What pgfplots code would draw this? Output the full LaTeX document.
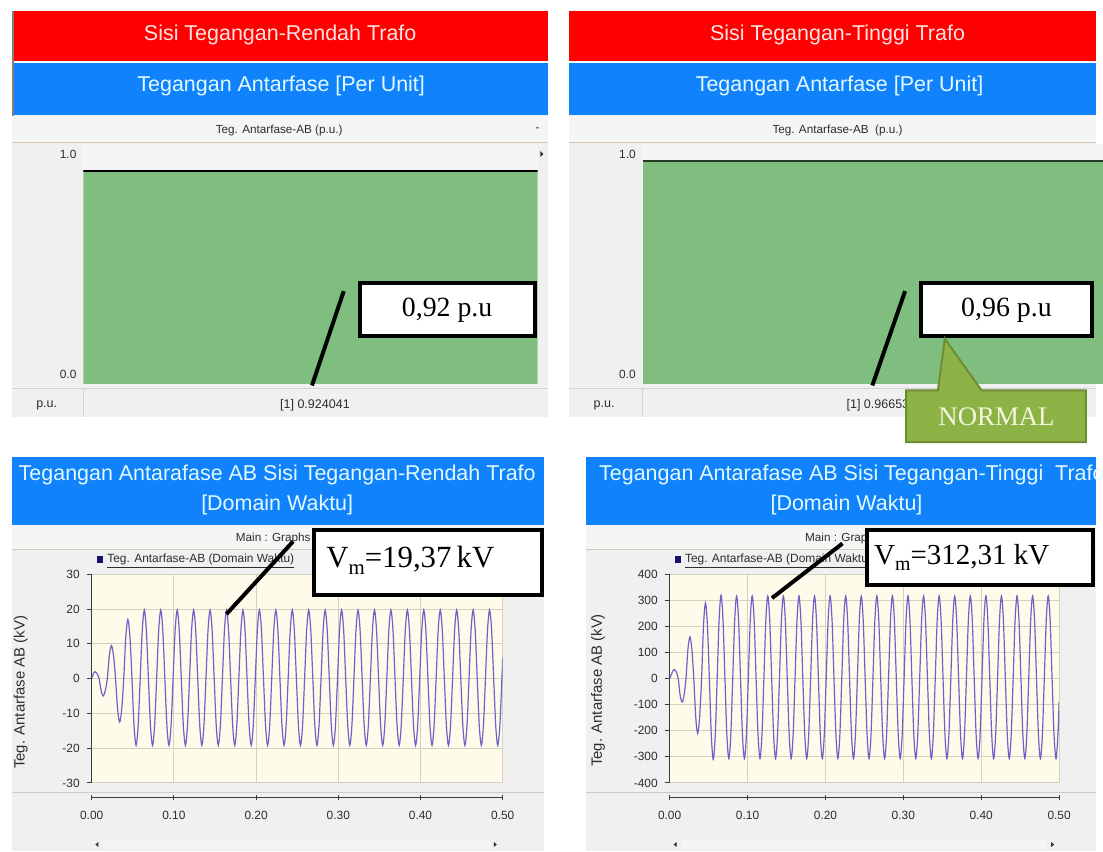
\documentclass[border=0pt]{standalone}
\usepackage{fontspec}
\setmainfont{Liberation Sans}
\newfontfamily\serif{Liberation Serif}
\usepackage{pgfplots}
\pgfplotsset{compat=1.18}
\definecolor{hred}{RGB}{254,0,0}
\definecolor{hblue}{RGB}{16,130,252}
\definecolor{htxtr}{RGB}{255,226,226}
\definecolor{htxtb}{RGB}{226,250,255}
\definecolor{pgray}{RGB}{240,240,240}
\definecolor{sgray}{RGB}{245,245,245}
\definecolor{sline}{RGB}{214,200,180}
\definecolor{barg}{RGB}{128,190,128}
\definecolor{normg}{RGB}{141,179,70}
\definecolor{normd}{RGB}{110,140,52}
\definecolor{normt}{RGB}{245,245,222}
\definecolor{wave}{RGB}{108,98,200}
\definecolor{cream}{RGB}{255,251,234}
\definecolor{gridc}{RGB}{214,208,192}
\definecolor{axc}{RGB}{60,60,60}
\definecolor{tickc}{RGB}{45,45,45}
\definecolor{navy}{RGB}{20,20,110}
\newcommand\fs[1]{\fontsize{#1}{#1}\selectfont}
\begin{document}
\begin{tikzpicture}
\begin{scope}[x=0.5pt,y=-0.5pt]
\useasboundingbox (0,0) rectangle (1103,857);
\fill[white] (0,0) rectangle (1103,857);
% ---------- top-left panel
\fill[pgray] (12,116) rectangle (552,420);
\fill[sgray] (12,117) rectangle (552,143);
\draw[sline, line width=0.5pt] (12,143.5) -- (552,143.5);
\fill[hred] (12,11.5) rectangle (552,61);
\fill[hblue] (12,63) rectangle (552,116);
\draw[gray, line width=1pt] (13,11.5) -- (13,117);
\draw[black!18, line width=0.5pt] (12,391) -- (552,391) (84,391) -- (84,420);
\node[text=htxtr, font=\fs{10.8}] at (282,35) {Sisi Tegangan-Rendah Trafo};
\node[text=htxtb, font=\fs{10.8}] at (283,87) {Tegangan Antarfase [Per Unit]};
\node[text=tickc, font=\fs{5.9}] at (281,131) {Teg. Antarfase-AB (p.u.)};
\node[text=tickc, font=\fs{6}] at (541,131) {-};
\fill[tickc] (547,155) -- (544,152) -- (544,158) -- cycle;
\node[text=tickc, font=\fs{6.3}] at (47,408) {p.u.};
\node[text=tickc, font=\fs{6.3}] at (317,408) {[1] 0.924041};
% ---------- top-right panel
\fill[pgray] (573,116) rectangle (1103,420);
\fill[sgray] (573,117) rectangle (1103,143);
\draw[sline, line width=0.5pt] (573,143.5) -- (1103,143.5);
\fill[hred] (573,11.5) rectangle (1103,61);
\fill[hblue] (573,63) rectangle (1103,116);
\draw[black!18, line width=0.5pt] (573,391) -- (1103,391) (647,391) -- (647,420);
\node[text=htxtr, font=\fs{10.8}] at (843,35) {Sisi Tegangan-Tinggi Trafo};
\node[text=htxtb, font=\fs{10.8}] at (845,87) {Tegangan Antarfase [Per Unit]};
\node[text=tickc, font=\fs{5.9}] at (843,131) {Teg. Antarfase-AB\ \ (p.u.)};
\node[text=tickc, font=\fs{6.3}] at (608,408) {p.u.};
\node[text=tickc, font=\fs{6.3}, anchor=west] at (845,408) {[1] 0.966530};
% ---------- bottom-left panel
\fill[pgray] (12,528) rectangle (548,857);
\fill[sgray] (12,528) rectangle (548,553);
\draw[sline, line width=0.5pt] (12,553.5) -- (548,553.5);
\fill[hblue] (12,460) rectangle (548,528);
\draw[black!20, line width=0.5pt] (12,798) -- (548,798);
\node[text=htxtb, font=\fs{10.8}] at (279,478) {Tegangan Antarafase AB Sisi Tegangan-Rendah Trafo};
\node[text=htxtb, font=\fs{10.8}] at (279,508) {[Domain Waktu]};
\node[text=tickc, font=\fs{5.9}] at (275,542) {Main : Graphs};
\node[text=tickc, font=\fs{7.5}, rotate=90] at (21,697) {Teg. Antarfase AB (kV)};
\fill[white!96!black] (104,845) rectangle (494,855);
\fill[tickc] (96,850) -- (99,847.5) -- (99,852.5) -- cycle;
\fill[tickc] (500,850) -- (497,847.5) -- (497,852.5) -- cycle;
% ---------- bottom-right panel
\fill[pgray] (590,528) rectangle (1103,857);
\fill[sgray] (590,528) rectangle (1103,553);
\draw[sline, line width=0.5pt] (590,553.5) -- (1103,553.5);
\fill[hblue] (590,460) rectangle (1103,528);
\draw[black!20, line width=0.5pt] (590,798) -- (1103,798);
\node[text=htxtb, font=\fs{10.8}, anchor=west] at (596,478) {Tegangan Antarafase AB Sisi Tegangan-Tinggi\ \ Trafo};
\node[text=htxtb, font=\fs{10.8}] at (852,508) {[Domain Waktu]};
\node[text=tickc, font=\fs{5.9}] at (848,542) {Main : Graphs};
\node[text=tickc, font=\fs{7.5}, rotate=90] at (602,695) {Teg. Antarfase AB (kV)};
\fill[white!96!black] (686,845) rectangle (1054,855);
\fill[tickc] (678,850) -- (681,847.5) -- (681,852.5) -- cycle;
\fill[tickc] (1061,850) -- (1058,847.5) -- (1058,852.5) -- cycle;
\end{scope}

% ================= top-left bar
\begin{axis}[at={(42pt,-193pt)}, anchor=south west, scale only axis,
  width=228.5pt, height=120.5pt,
  xmin=0, xmax=1, ymin=-0.0405, ymax=1.045,
  axis line style={draw=none}, xtick=\empty,
  ytick={0,1}, yticklabels={0.0,1.0}, major tick length=0pt,
  tick label style={font=\fs{6}, text=tickc},
  axis background/.style={fill=black!4}]
\addplot[fill=barg, draw=none] coordinates {(0,-0.0405) (0,0.924041) (1,0.924041) (1,-0.0405)};
\addplot[black, line width=0.9pt] coordinates {(0,0.924041) (1,0.924041)};
\end{axis}

% ================= top-right bar
\begin{axis}[at={(323.5pt,-193pt)}, anchor=south west, scale only axis,
  width=231.5pt, height=120.5pt,
  xmin=0, xmax=1, ymin=-0.0405, ymax=1.045,
  axis line style={draw=none}, xtick=\empty,
  ytick={0,1}, yticklabels={0.0,1.0}, major tick length=0pt,
  tick label style={font=\fs{6}, text=tickc},
  axis background/.style={fill=black!4}]
\addplot[fill=barg, draw=none] coordinates {(0,-0.0405) (0,0.96653) (1,0.96653) (1,-0.0405)};
\addplot[black!70!barg, line width=0.9pt] coordinates {(0,0.96653) (1,0.96653)};
\end{axis}

% ================= bottom-left waveform
\begin{axis}[at={(46.15pt,-394pt)}, anchor=south west, scale only axis,
  width=206.85pt, height=105pt,
  xmin=0, xmax=0.5, ymin=-30, ymax=30,
  axis x line*=bottom, axis y line*=left, axis x line shift=7.35pt,
  axis line style={-, axc, line width=0.7pt},
  xtick={0,0.1,0.2,0.3,0.4,0.5}, xticklabels={0.00,0.10,0.20,0.30,0.40,0.50},
  ytick={-30,-20,-10,0,10,20,30}, yticklabels={-30,-20,-10,0,10,20,30},
  xtick align=center, ytick align=outside, major tick length=2.5pt,
  tick style={axc, line width=0.5pt},
  grid=major, major grid style={gridc, line width=0.5pt},
  axis background/.style={fill=cream},
  tick label style={font=\fs{6}, text=tickc},
  xticklabel style={yshift=-2pt},
  legend style={at={(0.012,1.071)}, anchor=west, draw=none, fill=none,
    font=\fs{6}, inner sep=0pt, text=tickc},
  legend image code/.code={\fill[navy] (0pt,-1.3pt) rectangle (2.6pt,1.3pt);}]
\addplot[wave, line width=0.6pt, smooth] coordinates {
(0,0)(0.002,1.4)(0.004,2)(0.0065,1.4)(0.009,0)(0.0115,-3.5)(0.014,-5)(0.0165,-3.5)(0.019,0)
(0.0215,6.7)(0.024,9.5)(0.0265,6.7)(0.029,0)(0.0315,-8.8)(0.034,-12.5)(0.0365,-8.8)(0.039,0)
(0.0415,12)(0.044,17)(0.0465,12)(0.049,0)(0.0515,-13.6)(0.054,-19.2)(0.0565,-13.6)(0.059,0)
(0.0615,13.9)(0.064,19.7)(0.0665,13.9)(0.069,0)(0.0715,-13.6)(0.074,-19.2)(0.0765,-13.6)(0.079,0)
(0.0815,13.9)(0.084,19.7)(0.0865,13.9)(0.089,0)(0.0915,-13.6)(0.094,-19.2)(0.0965,-13.6)(0.099,0)
(0.1015,13.9)(0.104,19.7)(0.1065,13.9)(0.109,0)(0.1115,-13.6)(0.114,-19.2)(0.1165,-13.6)(0.119,0)
(0.1215,13.9)(0.124,19.7)(0.1265,13.9)(0.129,0)(0.1315,-13.6)(0.134,-19.2)(0.1365,-13.6)(0.139,0)
(0.1415,13.9)(0.144,19.7)(0.1465,13.9)(0.149,0)(0.1515,-13.6)(0.154,-19.2)(0.1565,-13.6)(0.159,0)
(0.1615,13.9)(0.164,19.7)(0.1665,13.9)(0.169,0)(0.1715,-13.6)(0.174,-19.2)(0.1765,-13.6)(0.179,0)
(0.1815,13.9)(0.184,19.7)(0.1865,13.9)(0.189,0)(0.1915,-13.6)(0.194,-19.2)(0.1965,-13.6)(0.199,0)
(0.2015,13.9)(0.204,19.7)(0.2065,13.9)(0.209,0)(0.2115,-13.6)(0.214,-19.2)(0.2165,-13.6)(0.219,0)
(0.2215,13.9)(0.224,19.7)(0.2265,13.9)(0.229,0)(0.2315,-13.6)(0.234,-19.2)(0.2365,-13.6)(0.239,0)
(0.2415,13.9)(0.244,19.7)(0.2465,13.9)(0.249,0)(0.2515,-13.6)(0.254,-19.2)(0.2565,-13.6)(0.259,0)
(0.2615,13.9)(0.264,19.7)(0.2665,13.9)(0.269,0)(0.2715,-13.6)(0.274,-19.2)(0.2765,-13.6)(0.279,0)
(0.2815,13.9)(0.284,19.7)(0.2865,13.9)(0.289,0)(0.2915,-13.6)(0.294,-19.2)(0.2965,-13.6)(0.299,0)
(0.3015,13.9)(0.304,19.7)(0.3065,13.9)(0.309,0)(0.3115,-13.6)(0.314,-19.2)(0.3165,-13.6)(0.319,0)
(0.3215,13.9)(0.324,19.7)(0.3265,13.9)(0.329,0)(0.3315,-13.6)(0.334,-19.2)(0.3365,-13.6)(0.339,0)
(0.3415,13.9)(0.344,19.7)(0.3465,13.9)(0.349,0)(0.3515,-13.6)(0.354,-19.2)(0.3565,-13.6)(0.359,0)
(0.3615,13.9)(0.364,19.7)(0.3665,13.9)(0.369,0)(0.3715,-13.6)(0.374,-19.2)(0.3765,-13.6)(0.379,0)
(0.3815,13.9)(0.384,19.7)(0.3865,13.9)(0.389,0)(0.3915,-13.6)(0.394,-19.2)(0.3965,-13.6)(0.399,0)
(0.4015,13.9)(0.404,19.7)(0.4065,13.9)(0.409,0)(0.4115,-13.6)(0.414,-19.2)(0.4165,-13.6)(0.419,0)
(0.4215,13.9)(0.424,19.7)(0.4265,13.9)(0.429,0)(0.4315,-13.6)(0.434,-19.2)(0.4365,-13.6)(0.439,0)
(0.4415,13.9)(0.444,19.7)(0.4465,13.9)(0.449,0)(0.4515,-13.6)(0.454,-19.2)(0.4565,-13.6)(0.459,0)
(0.4615,13.9)(0.464,19.7)(0.4665,13.9)(0.469,0)(0.4715,-13.6)(0.474,-19.2)(0.4765,-13.6)(0.479,0)
(0.4815,13.9)(0.484,19.7)(0.4865,13.9)(0.489,0)(0.4915,-13.6)(0.494,-19.2)(0.4965,-13.6)(0.499,0)
(0.5,6)};
\addlegendentry{\underline{Teg. Antarfase-AB (Domain Waktu)}}
\end{axis}

% ================= bottom-right waveform
\begin{axis}[at={(337pt,-394pt)}, anchor=south west, scale only axis,
  width=196pt, height=105pt,
  xmin=0, xmax=0.5, ymin=-400, ymax=400,
  axis x line*=bottom, axis y line*=left, axis x line shift=7.35pt,
  axis line style={-, axc, line width=0.7pt},
  xtick={0,0.1,0.2,0.3,0.4,0.5}, xticklabels={0.00,0.10,0.20,0.30,0.40,0.50},
  ytick={-400,-300,-200,-100,0,100,200,300,400},
  yticklabels={-400,-300,-200,-100,0,100,200,300,400},
  xtick align=center, ytick align=outside, major tick length=2.5pt,
  tick style={axc, line width=0.5pt},
  grid=major, major grid style={gridc, line width=0.5pt},
  axis background/.style={fill=cream},
  tick label style={font=\fs{6}, text=tickc},
  xticklabel style={yshift=-2pt},
  legend style={at={(0.012,1.071)}, anchor=west, draw=none, fill=none,
    font=\fs{6}, inner sep=0pt, text=tickc},
  legend image code/.code={\fill[navy] (0pt,-1.3pt) rectangle (2.6pt,1.3pt);}]
\addplot[wave, line width=0.6pt, smooth] coordinates {
(0,0)(0.0035,25)(0.006,35)(0.0085,25)(0.011,0)(0.0135,-64)(0.016,-90)(0.0185,-64)(0.021,0)
(0.0235,113)(0.026,160)(0.0285,113)(0.031,0)(0.0335,-148)(0.036,-210)(0.0385,-148)(0.041,0)
(0.0435,205)(0.046,290)(0.0485,205)(0.051,0)(0.0535,-219)(0.056,-310)(0.0585,-219)(0.061,0)
(0.0635,226)(0.066,320)(0.0685,226)(0.071,0)
(0.0735,-217)(0.076,-307)(0.0785,-217)(0.081,0)(0.0835,224)(0.086,317)(0.0885,224)(0.091,0)
(0.0935,-217)(0.096,-307)(0.0985,-217)(0.101,0)(0.1035,224)(0.106,317)(0.1085,224)(0.111,0)
(0.1135,-217)(0.116,-307)(0.1185,-217)(0.121,0)(0.1235,224)(0.126,317)(0.1285,224)(0.131,0)
(0.1335,-217)(0.136,-307)(0.1385,-217)(0.141,0)(0.1435,224)(0.146,317)(0.1485,224)(0.151,0)
(0.1535,-217)(0.156,-307)(0.1585,-217)(0.161,0)(0.1635,224)(0.166,317)(0.1685,224)(0.171,0)
(0.1735,-217)(0.176,-307)(0.1785,-217)(0.181,0)(0.1835,224)(0.186,317)(0.1885,224)(0.191,0)
(0.1935,-217)(0.196,-307)(0.1985,-217)(0.201,0)(0.2035,224)(0.206,317)(0.2085,224)(0.211,0)
(0.2135,-217)(0.216,-307)(0.2185,-217)(0.221,0)(0.2235,224)(0.226,317)(0.2285,224)(0.231,0)
(0.2335,-217)(0.236,-307)(0.2385,-217)(0.241,0)(0.2435,224)(0.246,317)(0.2485,224)(0.251,0)
(0.2535,-217)(0.256,-307)(0.2585,-217)(0.261,0)(0.2635,224)(0.266,317)(0.2685,224)(0.271,0)
(0.2735,-217)(0.276,-307)(0.2785,-217)(0.281,0)(0.2835,224)(0.286,317)(0.2885,224)(0.291,0)
(0.2935,-217)(0.296,-307)(0.2985,-217)(0.301,0)(0.3035,224)(0.306,317)(0.3085,224)(0.311,0)
(0.3135,-217)(0.316,-307)(0.3185,-217)(0.321,0)(0.3235,224)(0.326,317)(0.3285,224)(0.331,0)
(0.3335,-217)(0.336,-307)(0.3385,-217)(0.341,0)(0.3435,224)(0.346,317)(0.3485,224)(0.351,0)
(0.3535,-217)(0.356,-307)(0.3585,-217)(0.361,0)(0.3635,224)(0.366,317)(0.3685,224)(0.371,0)
(0.3735,-217)(0.376,-307)(0.3785,-217)(0.381,0)(0.3835,224)(0.386,317)(0.3885,224)(0.391,0)
(0.3935,-217)(0.396,-307)(0.3985,-217)(0.401,0)(0.4035,224)(0.406,317)(0.4085,224)(0.411,0)
(0.4135,-217)(0.416,-307)(0.4185,-217)(0.421,0)(0.4235,224)(0.426,317)(0.4285,224)(0.431,0)
(0.4335,-217)(0.436,-307)(0.4385,-217)(0.441,0)(0.4435,224)(0.446,317)(0.4485,224)(0.451,0)
(0.4535,-217)(0.456,-307)(0.4585,-217)(0.461,0)(0.4635,224)(0.466,317)(0.4685,224)(0.471,0)
(0.4735,-217)(0.476,-307)(0.4785,-217)(0.481,0)(0.4835,224)(0.486,317)(0.4885,224)(0.491,0)
(0.4935,-217)(0.496,-307)(0.4985,-217)(0.5,-90)};
\addlegendentry{\underline{Teg. Antarfase-AB (Domain Waktu)}}
\end{axis}

% ================= annotations
\begin{scope}[x=0.5pt,y=-0.5pt]
\draw[line width=2pt] (346,293) -- (314,388);
\draw[line width=2pt, fill=white] (362,285) rectangle (538,338);
\node[font={\serif\fs{14}}] at (450,312) {0,92 p.u};
\draw[line width=2pt] (911,293) -- (878,388);
\draw[line width=2pt, fill=white] (927,285) rectangle (1099,338);
\node[font={\serif\fs{14}}] at (1013,312) {0,96 p.u};
\filldraw[fill=normg, draw=normd, line width=1pt] (912,393) -- (944,393) -- (951,341) -- (988,393) -- (1093,393) -- (1093,445) -- (912,445) -- cycle;
\node[text=normt, font={\serif\fs{13.5}}] at (1003,419) {NORMAL};
\draw[line width=2pt] (295,545) -- (228,618);
\draw[line width=2pt, fill=white] (316,533) rectangle (546,599);
\node[font={\serif\fs{15.5}}] at (413,564) {V\raisebox{-0.45ex}{\fs{10.5}m}=19,37\,kV};
\draw[line width=2pt] (848,547) -- (777,602);
\draw[line width=2pt, fill=white] (873,533) rectangle (1100,589);
\node[font={\serif\fs{14.6}}] at (968,561) {V\raisebox{-0.45ex}{\fs{10}m}=312,31 kV};
\end{scope}
\end{tikzpicture}
\end{document}
